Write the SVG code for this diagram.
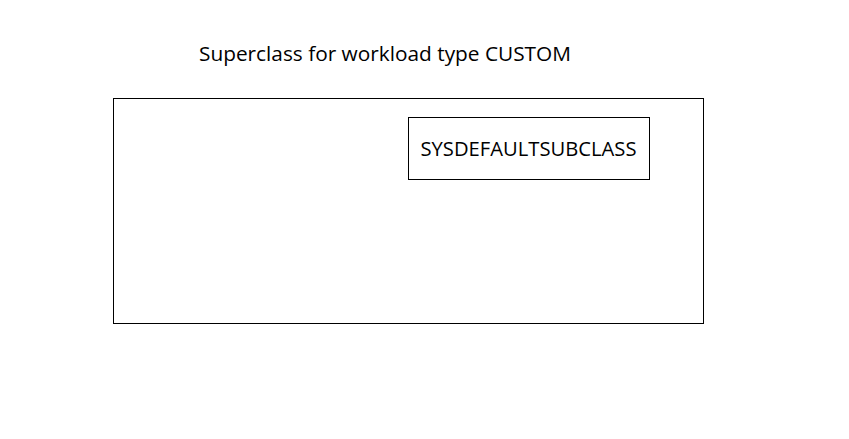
<svg xmlns="http://www.w3.org/2000/svg" width="849" height="439" viewBox="0 0 849 439">
<style>
.box{fill:#fff;stroke:#000;stroke-width:1}
.t{font-family:"Open Sans","Liberation Sans",Arial,sans-serif;font-size:20.5px;fill:#000}
</style>
<rect width="849" height="439" fill="#fff"/>
<g id="title"><text class="t" x="199" y="61" textLength="372" lengthAdjust="spacingAndGlyphs">Superclass for workload type CUSTOM</text></g>
<g id="superclass"><rect class="box" x="113.5" y="98.5" width="590" height="225"/></g>
<g id="subclass"><rect class="box" x="408.5" y="117.5" width="241" height="62"/>
<text class="t" x="420.5" y="156" textLength="216" lengthAdjust="spacingAndGlyphs">SYSDEFAULTSUBCLASS</text></g>
<g id="connectors"/>
</svg>
